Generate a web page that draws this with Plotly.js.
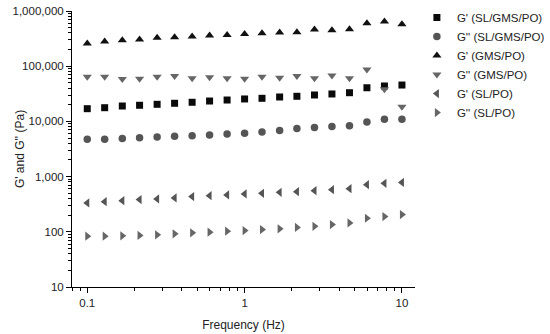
<!DOCTYPE html>
<html>
<head>
<meta charset="utf-8">
<script src="https://cdn.plot.ly/plotly-3.0.1.min.js"></script>
<style>html,body{margin:0;padding:0;background:#fff;}#chart{width:550px;height:334px;}</style>
</head>
<body>
<div id="chart"></div>
<script>
// Frequency (Hz), 9 points per decade
var frequency = [0.1, 0.129, 0.167, 0.215, 0.278, 0.359, 0.464, 0.599, 0.774, 1, 1.29, 1.67, 2.15, 2.78, 3.59, 4.64, 5.99, 7.74, 10];

var seriesNames = ["G' (SL/GMS/PO)", "G'' (SL/GMS/PO)", "G' (GMS/PO)", "G'' (GMS/PO)", "G' (SL/PO)", "G'' (SL/PO)"];

var gp_SL_GMS_PO  = [17000, 17700, 19000, 19600, 20400, 21300, 22200, 23400, 24400, 25500, 26200, 27700, 28500, 30100, 31400, 33100, 40700, 43800, 45600];
var gpp_SL_GMS_PO = [4770, 4770, 4900, 5040, 5190, 5410, 5470, 5700, 5940, 6120, 6460, 6820, 7410, 7730, 8050, 8300, 9800, 10960, 10960];
var gp_GMS_PO     = [258000, 280000, 296000, 305000, 326000, 335000, 345000, 360000, 369000, 385000, 396000, 408000, 413000, 461000, 449000, 468000, 600000, 644000, 575000];
var gpp_GMS_PO    = [64400, 64400, 58500, 59300, 64400, 66200, 60200, 62800, 60200, 59300, 64400, 61800, 66200, 60200, 68200, 60200, 87500, 38100, 18500];
var gp_SL_PO      = [333, 352, 367, 383, 394, 411, 434, 452, 466, 485, 498, 519, 534, 556, 580, 605, 714, 754, 785];
var gpp_SL_PO     = [83.3, 83.3, 84.7, 85.8, 88.3, 92.0, 95.9, 98.4, 102.6, 105.5, 110, 113, 120, 126, 135.5, 145, 176, 189, 205];

var yTickVals = [10, 100, 1000, 10000, 100000, 1000000];
var yTickText = ["10", "100", "1,000", "10,000", "100,000", "1,000,000"];
var xTickVals = [0.1, 1, 10];
var xTickText = ["0.1", "1", "10"];

function minorLog(lo, hi) {
  var out = [];
  for (var e = lo; e < hi; e++) {
    for (var d = 2; d <= 9; d++) out.push(d * Math.pow(10, e));
  }
  return out;
}

var seriesValues = [gp_SL_GMS_PO, gpp_SL_GMS_PO, gp_GMS_PO, gpp_GMS_PO, gp_SL_PO, gpp_SL_PO];
var symbols = ["square", "circle", "triangle-up", "triangle-down", "triangle-left", "triangle-right"];
var colors = ["#0a0a0a", "#555555", "#111111", "#666666", "#555555", "#666666"];
var sizes = [7, 7.5, 8, 8, 8, 8];

var traces = seriesValues.map(function (vals, i) {
  return {
    x: frequency,
    y: vals,
    name: seriesNames[i],
    type: "scatter",
    mode: "markers",
    marker: { symbol: symbols[i], color: colors[i], size: sizes[i], line: { width: 0 } }
  };
});

var font = "Liberation Sans, Arial, sans-serif";
var layout = {
  width: 550,
  height: 334,
  paper_bgcolor: "#fff",
  plot_bgcolor: "#fff",
  margin: { l: 72, r: 135, t: 11, b: 47 },
  font: { family: font, size: 12, color: "#222" },
  showlegend: true,
  legend: {
    xref: "container", yref: "container",
    x: 0.758, y: 0.991, xanchor: "left", yanchor: "top",
    font: { family: font, size: 11.5, color: "#222" },
    bgcolor: "rgba(0,0,0,0)"
  },
  xaxis: {
    type: "log",
    range: [-1.097, 1.083],
    tickmode: "array",
    tickvals: xTickVals,
    ticktext: xTickText,
    ticks: "outside",
    ticklen: 5,
    tickcolor: "#000",
    tickfont: { family: font, size: 11.5, color: "#222" },
    showline: true,
    linecolor: "#000",
    linewidth: 1,
    showgrid: false,
    zeroline: false,
    minor: { tickmode: "array", tickvals: minorLog(-2, 2), ticks: "outside", ticklen: 3, tickcolor: "#000", showgrid: false },
    title: { text: "Frequency (Hz)", font: { family: font, size: 12, color: "#222" }, standoff: 12 }
  },
  yaxis: {
    type: "log",
    range: [1, 6],
    tickmode: "array",
    tickvals: yTickVals,
    ticktext: yTickText,
    ticks: "outside",
    ticklen: 5,
    tickcolor: "#000",
    tickfont: { family: font, size: 11.5, color: "#222" },
    showline: true,
    linecolor: "#000",
    linewidth: 1,
    showgrid: false,
    zeroline: false,
    minor: { tickmode: "array", tickvals: minorLog(1, 6), ticks: "outside", ticklen: 3, tickcolor: "#000", showgrid: false },
    title: { text: "G' and G'' (Pa)", font: { family: font, size: 12, color: "#222" } }
  }
};

Plotly.newPlot("chart", traces, layout, { displayModeBar: false, staticPlot: true });
</script>
</body>
</html>
